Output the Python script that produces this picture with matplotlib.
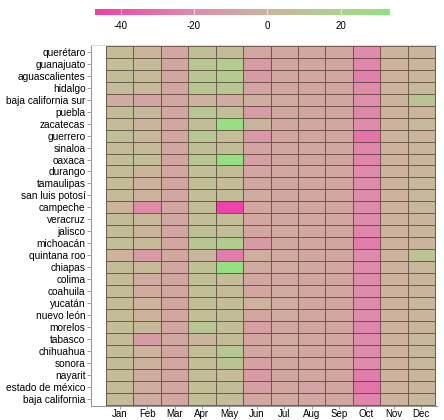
import numpy as np
import matplotlib
matplotlib.use("Agg")
import matplotlib.pyplot as plt
from matplotlib.colors import LinearSegmentedColormap, Normalize

plt.rcParams['font.family'] = ['Liberation Sans', 'DejaVu Sans']
plt.rcParams['axes.unicode_minus'] = False

# states, top to bottom
states = ['querétaro', 'guanajuato', 'aguascalientes', 'hidalgo', 'baja california sur',
          'puebla', 'zacatecas', 'guerrero', 'sinaloa', 'oaxaca', 'durango', 'tamaulipas',
          'san luis potosí', 'campeche', 'veracruz', 'jalisco', 'michoacán', 'quintana roo',
          'chiapas', 'colima', 'coahuila', 'yucatán', 'nuevo león', 'morelos', 'tabasco',
          'chihuahua', 'sonora', 'nayarit', 'estado de méxico', 'baja california']
months = ['Jan', 'Feb', 'Mar', 'Apr', 'May', 'Jun', 'Jul', 'Aug', 'Sep', 'Oct', 'Nov', 'Dec']

# monthly values per state (same order as states)
jan = [5, 7, 6, 6, -3, 6, 6, 8, 6, 6, 5, 5, 5, 2, 6, 6, 7, 0, 6, 5, 6, 5, 6, 7, 5, 6, 6, 5, 6, 5]
feb = [2, 5, 4, 4, -8, 4, 2, 4, 4, 7, 2, 0, 0, -20, 4, 2, 4, -12, 4, -3, -3, 0, 0, 4, -12, 0, 0, -3, -2, -3]
mar = [-6, -5, -6, -5, -6, -6, -5, -6, -5, -6, -5, -5, -5, -6, -5, -5, -6, -5, -5, -5, -6, -5, -5, -6, -5, -5, -5, -6, -6, -6]
apr = [8, 12, 12, 12, 0, 12, 8, 12, 8, 12, 7, 7, 7, 6, 7, 8, 12, 1, 9, 7, 7, 7, 7, 12, 1, 7, 7, 6, 7, 7]
may = [6, 15, 14, 12, -3, 7, 28, 7, 6, 30, 6, 5, 6, -45, 7, 6, 15, -25, 30, 5, 5, 6, 6, 7, 5, 12, 10, 5, 6, 6]
jun = [-6, -12, -12, -8, -2, -12, 2, -14, -8, -10, -6, -5, -3, -6, -6, -6, -12, -2, -4, -6, -6, 0, -6, -10, -7, -6, -9, -12, -10, -6]
jul = [-5, -6, -5, -5, -4, -6, -5, -6, -5, -6, -5, -5, -5, -5, -5, -4, -5, -4, -4, -5, -4, -3, -4, -5, -4, -4, -5, -5, -6, -4]
aug = [-6, -6, -6, -6, -5, -6, -5, -7, -6, -6, -6, -6, -6, -6, -6, -6, -6, -5, -5, -6, -6, -5, -6, -6, -6, -6, -6, -6, -8, -6]
sep = [-6, -6, -6, -6, -5, -6, -6, -7, -6, -6, -6, -6, -6, -6, -6, -6, -7, -5, -6, -6, -6, -6, -6, -7, -6, -6, -6, -7, -7, -6]
oct_ = [-20, -22, -24, -20, -18, -22, -20, -28, -22, -22, -20, -20, -20, -20, -20, -22, -25, -20, -20, -20, -20, -20, -20, -22, -20, -20, -20, -25, -28, -22]
nov = [1, 0, 0, 0, 1, 0, 0, 0, 0, 0, 0, 0, 0, 0, 0, 0, 0, 0, 0, 0, 0, 0, 0, 0, 0, 0, 0, 0, 0, 0]
dec = [2, 2, 2, 3, 10, 2, 3, 2, 2, 2, 2, 3, 3, 3, 2, 2, 2, 10, 3, 2, 2, 3, 2, 2, 3, 3, 3, 2, 2, 3]

cbar_ticks = [-40, -20, 0, 20]

vmin, vmax = -47, 33.5
stops = [(-47, '#f03caa'), (-20, '#de8caa'), (0, '#cdb29e'), (20, '#aad48c'), (33.5, '#8ce47d')]
cmap = LinearSegmentedColormap.from_list(
    'pinkgreen', [((v - vmin) / (vmax - vmin), c) for v, c in stops])
norm = Normalize(vmin=vmin, vmax=vmax)

data = np.array([jan, feb, mar, apr, may, jun, jul, aug, sep, oct_, nov, dec]).T

fig = plt.figure(figsize=(4.44, 4.20), dpi=100)
W, H = 444, 420

# heatmap
ax = fig.add_axes([91 / W, 1 - 406 / H, (437 - 91) / W, (406 - 45) / H])
ax.pcolormesh(np.arange(13) - 0.5, np.arange(31) - 0.5, data, cmap=cmap, norm=norm,
              edgecolors=(0.2, 0.13, 0.08, 0.6), linewidth=0.7)
ax.set_xlim(-0.5 - 15 / 27.4, 11.5 + 2 / 27.4)
ax.set_ylim(29.5 + 0.12, -0.5 - 0.08)
ax.set_xticks(range(12))
ax.set_xticklabels(months, fontsize=7)
ax.set_yticks(range(30))
ax.set_yticklabels(states, fontsize=7.3)
ax.tick_params(axis='y', length=3, width=0.6, color='#888888', pad=1)
ax.tick_params(axis='x', length=2, width=0.6, color='#888888', pad=0.5)
for side in ['left', 'bottom']:
    ax.spines[side].set_color('#999999')
    ax.spines[side].set_linewidth(0.8)
ax.spines['top'].set_color('#dddddd')
ax.spines['right'].set_visible(False)

# colorbar on top
cax = fig.add_axes([95 / W, 1 - 15 / H, 295 / W, 6 / H])
cb = fig.colorbar(plt.cm.ScalarMappable(norm=norm, cmap=cmap), cax=cax, orientation='horizontal')
cb.outline.set_visible(False)
cb.set_ticks(cbar_ticks)
cb.ax.tick_params(labelsize=7, length=0, pad=4)
for t in cbar_ticks:
    cax.axvline(t, color='white', lw=0.8, alpha=0.6)

fig.savefig('out.png', dpi=100)
